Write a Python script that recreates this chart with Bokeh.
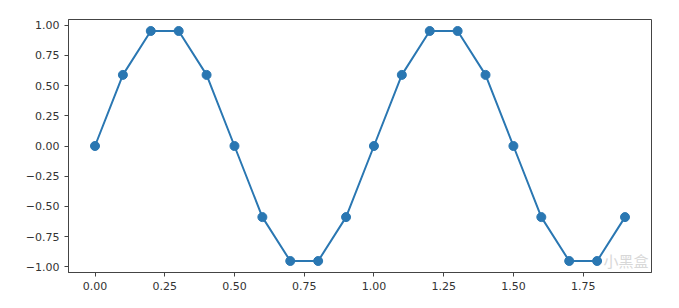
from bokeh.plotting import figure
from bokeh.models import FixedTicker, Range1d, Label
from bokeh.embed import file_html
from bokeh.resources import INLINE

x_values = [0.0, 0.1, 0.2, 0.3, 0.4, 0.5, 0.6, 0.7, 0.8, 0.9,
            1.0, 1.1, 1.2, 1.3, 1.4, 1.5, 1.6, 1.7, 1.8, 1.9]
y_values = [0.0, 0.588, 0.951, 0.951, 0.588, 0.0, -0.588, -0.951, -0.951, -0.588,
            0.0, 0.588, 0.951, 0.951, 0.588, 0.0, -0.588, -0.951, -0.951, -0.588]
x_ticks = [0.0, 0.25, 0.5, 0.75, 1.0, 1.25, 1.5, 1.75]
y_ticks = [-1.0, -0.75, -0.5, -0.25, 0.0, 0.25, 0.5, 0.75, 1.0]

def fmt(v):
    s = "%.2f" % v
    return s.replace("-", "\u2212")

p = figure(width=679, height=308, output_backend="svg", toolbar_location=None,
           x_range=Range1d(-0.095, 1.995), y_range=Range1d(-1.0461, 1.0461),
           min_border_left=68, min_border_right=28, min_border_top=19, min_border_bottom=36)
p.background_fill_color = "white"
p.border_fill_color = "white"
p.outline_line_color = "#444444"
p.outline_line_width = 1
p.xgrid.visible = False
p.ygrid.visible = False

color = "#2a77b2"
p.line(x_values, y_values, line_color=color, line_width=2)
p.scatter(x_values, y_values, size=9, fill_color=color, line_color=color)

for ax, ticks in ((p.xaxis[0], x_ticks), (p.yaxis[0], y_ticks)):
    ax.ticker = FixedTicker(ticks=ticks)
    ax.major_label_overrides = {t: fmt(t) for t in ticks}
    ax.minor_tick_line_color = None
    ax.major_tick_in = 0
    ax.major_tick_out = 4
    ax.major_tick_line_color = "#444444"
    ax.axis_line_color = "#444444"
    ax.major_label_text_font = "DejaVu Sans"
    ax.major_label_text_font_size = "11px"
    ax.major_label_text_color = "#333333"
    ax.major_label_standoff = 5

p.add_layout(Label(x=580, y=2, x_units="screen", y_units="screen", text_align="right",
                   text="小黑盒", text_font="Noto Sans CJK SC", text_font_size="15px",
                   text_color="#d8d8d8"))

open("out.html", "w").write(file_html(p, INLINE))
